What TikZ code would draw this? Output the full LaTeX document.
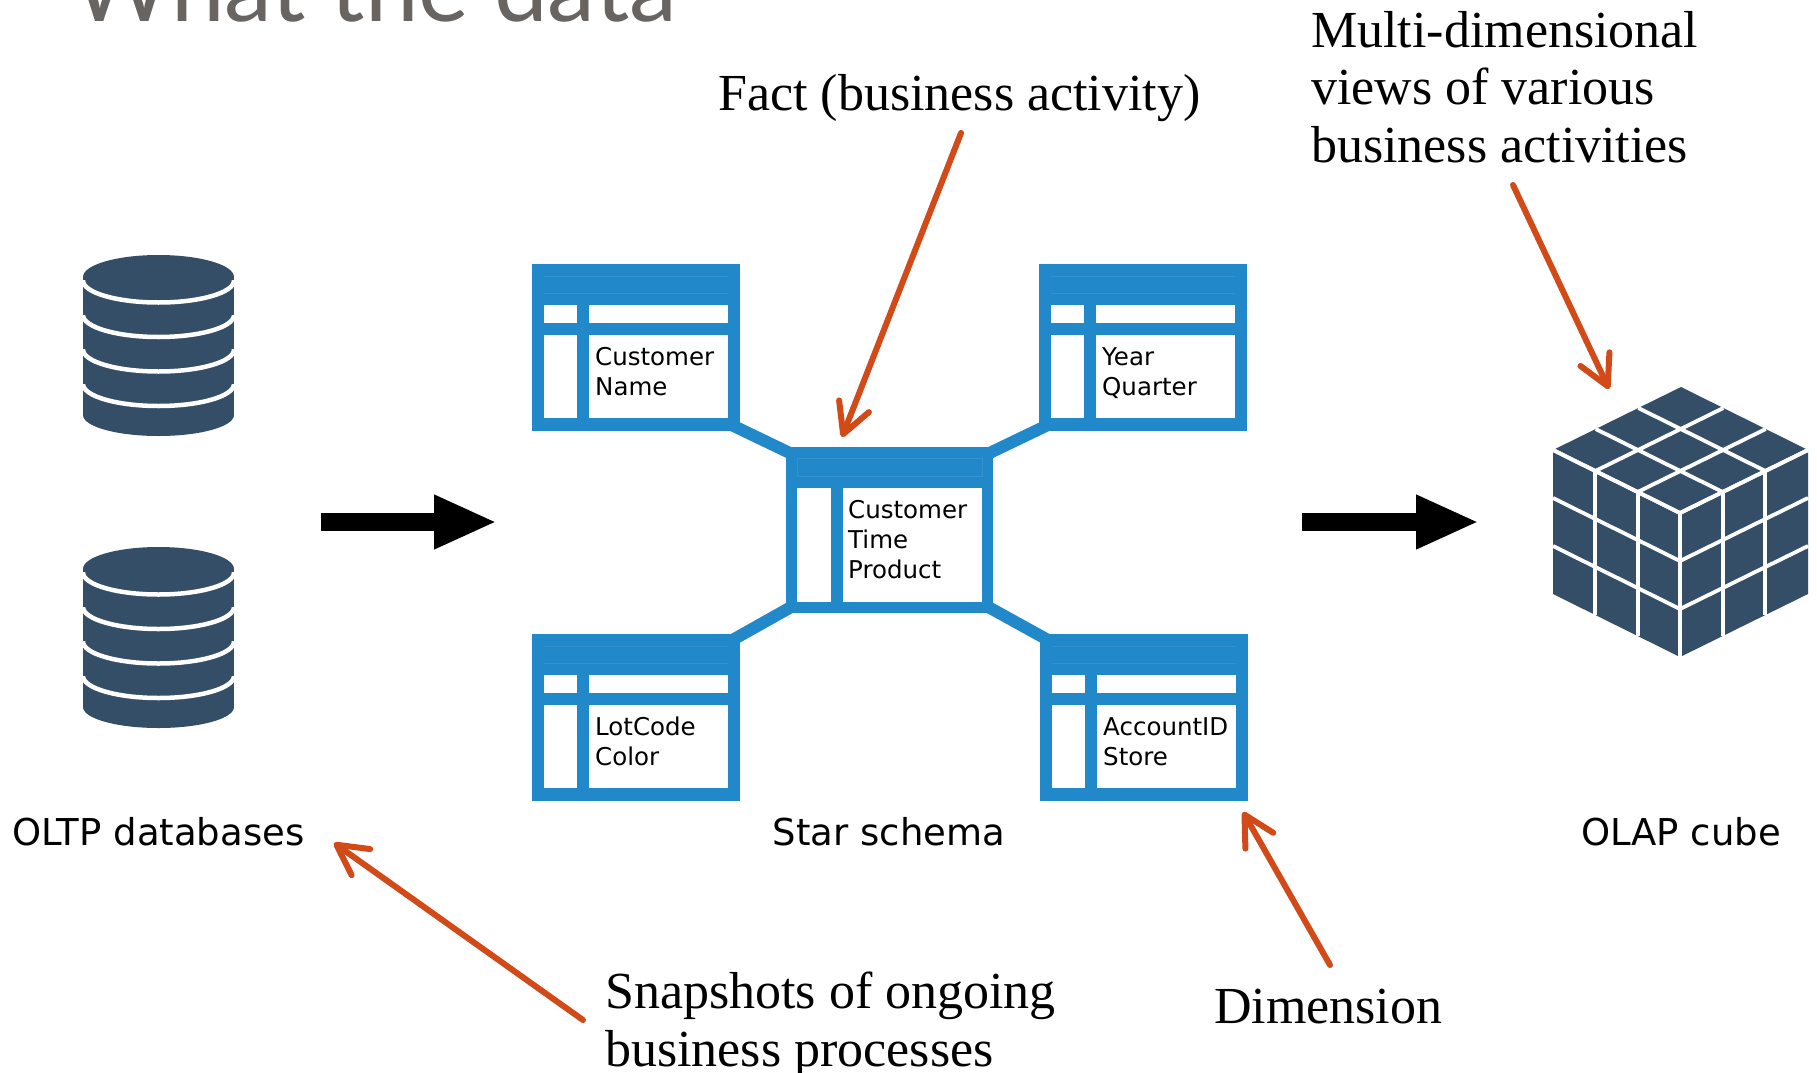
\documentclass[tikz,border=0pt]{standalone}
\usepackage{fontspec}
\usetikzlibrary{calc,arrows.meta}
\newfontfamily\sansf{DejaVu Sans}
\newfontfamily\seriff{Liberation Serif}
\newfontfamily\titlef{Lato}
\definecolor{tblue}{RGB}{33,136,201}
\definecolor{slate}{RGB}{53,78,103}
\definecolor{rust}{RGB}{209,74,24}
\definecolor{titlegray}{RGB}{103,100,98}
\pgfdeclarelayer{bg}
\pgfdeclarelayer{links}
\pgfsetlayers{bg,links,main}

% a dimension table: header band, a key row and a body with two columns
\newcommand\dimtable[4]{%
  \node[tablebox, anchor=north west] (#1) at (#2,#3) {};
  \fill[white] ($(#1.north west)+(12,41)$) rectangle ($(#1.north west)+(45,59)$);
  \fill[white] ($(#1.north west)+(57,41)$) rectangle ($(#1.north west)+(196,59)$);
  \fill[white] ($(#1.north west)+(12,71)$) rectangle ($(#1.north west)+(45,154)$);
  \fill[white] ($(#1.north west)+(57,71)$) rectangle ($(#1.north west)+(196,154)$);
  \draw[headline] ($(#1.north west)+(12,12)$) -- ($(#1.north west)+(196,12)$);
  \draw[headline] ($(#1.north west)+(12,29)$) -- ($(#1.north west)+(196,29)$);
  % base anchor of a two-line node sits on its last line
  \node[celltext] (#1-txt) at ($(#1.north west)+(63,131)$) {#4};
}

% a database cylinder with four white rings
\newcommand\dbstack[1]{%
  \begin{scope}[shift={(0,#1)}]
    \fill[slate] (83,277) rectangle (234,415);
    \fill[slate] (158.5,277) ellipse[x radius=75.5, y radius=22];
    \fill[slate] (158.5,415) ellipse[x radius=75.5, y radius=21];
    \foreach \c in {280.5,315,349.5,384} {
      \begin{scope}
        \clip (78,\c) rectangle (240,\c+30);
        \draw[white, line width=4.5] (158.5,\c) ellipse[x radius=75.5, y radius=22];
      \end{scope}
    }
  \end{scope}
}

\begin{document}
\begin{tikzpicture}[x=1pt, y=-1pt,
  tablebox/.style={rectangle, fill=tblue, draw=none, inner sep=0,
    minimum width=208pt, minimum height=167pt},
  headline/.style={draw=tblue!92!white, line width=0.8pt},
  celltext/.style={anchor=base west, align=left, inner sep=0,
    font=\sansf\fontsize{24.5}{30}\selectfont},
  link/.style={draw=tblue, line width=12pt},
  bigarrow/.style={line width=18pt, -{Triangle[length=63pt, width=50pt]}},
  lab/.style={inner sep=0, font=\sansf\fontsize{37}{44}\selectfont},
  note/.style={inner sep=0, align=left, font=\seriff\fontsize{52}{57.5}\selectfont},
  callout/.style={draw=rust, line width=6pt, line cap=round,
    -{Straight Barb[length=30pt, width=32pt, round]}},
  grid/.style={draw=white, line width=3.8pt}]

\begin{pgfonlayer}{bg}
  \fill[white] (0,0) rectangle (1817,1073);
\end{pgfonlayer}
\useasboundingbox (0,0) rectangle (1817,1073);
\clip (0,0) rectangle (1817,1073);

% heading, only its lower part lies on the page
\node[anchor=base west, inner sep=0, text=titlegray,
  font=\titlef\fontsize{96}{100}\selectfont] (title) at (72,22) {What the data};

% OLTP databases
\dbstack{0}
\dbstack{292}

% star schema: four dimension tables around the fact table
\dimtable{dcust}{532}{264}{Customer\\Name}
\dimtable{dtime}{1039}{264}{Year\\Quarter}
\dimtable{dprod}{532}{634}{LotCode\\Color}
\dimtable{dstore}{1040}{634}{AccountID\\Store}

\node[tablebox, anchor=north west, minimum width=207pt, minimum height=166pt] (fact) at (786,447) {};
\draw[headline] ($(fact.north west)+(11,11)$) rectangle ($(fact.north west)+(196,29)$);
\fill[white] ($(fact.north west)+(11,41)$) rectangle ($(fact.north west)+(45,155)$);
\fill[white] ($(fact.north west)+(57,41)$) rectangle ($(fact.north west)+(196,155)$);
\node[celltext] (fact-txt) at ($(fact.north west)+(62,131)$) {Customer\\Time\\Product};

\begin{pgfonlayer}{links}
  \draw[link] ($(dcust.south east)+(-8,-6)$) -- ($(fact.north west)+(8,8)$);
  \draw[link] ($(dtime.south west)+(8,-6)$) -- ($(fact.north east)+(-8,8)$);
  \draw[link] ($(dprod.north east)+(-8,6)$) -- ($(fact.south west)+(8,-8)$);
  \draw[link] ($(dstore.north west)+(8,6)$) -- ($(fact.south east)+(-8,-8)$);
\end{pgfonlayer}

% OLAP cube
\coordinate (cc) at (1680,513);
\coordinate (cl) at (-127,-63);
\coordinate (cr) at (128,-63);
\coordinate (cd) at (0,144);
\fill[slate] ($(cc)+(cl)$) -- ($(cc)+(cl)+(cr)$) -- ($(cc)+(cr)$) -- ($(cc)+(cr)+(cd)$)
  -- ($(cc)+(cd)$) -- ($(cc)+(cl)+(cd)$) -- cycle;
\foreach \a in {0,0.3333,0.6667} {
  \draw[grid] ($(cc)+\a*(cl)$) -- ($(cc)+\a*(cl)+(cr)$);
  \draw[grid] ($(cc)+\a*(cr)$) -- ($(cc)+\a*(cr)+(cl)$);
  \draw[grid] ($(cc)+\a*(cl)$) -- ($(cc)+\a*(cl)+(cd)$);
  \draw[grid] ($(cc)+\a*(cr)$) -- ($(cc)+\a*(cr)+(cd)$);
  \draw[grid] ($(cc)+\a*(cd)$) -- ($(cc)+\a*(cd)+(cl)$);
  \draw[grid] ($(cc)+\a*(cd)$) -- ($(cc)+\a*(cd)+(cr)$);
}

% flow arrows
\coordinate (a1s) at (321,522);
\coordinate (a1e) at (497,522);
\coordinate (a2s) at (1302,522);
\coordinate (a2e) at (1479,522);
\draw[bigarrow] (a1s) -- (a1e);
\draw[bigarrow] (a2s) -- (a2e);

% captions
\node[lab, anchor=base west] (oltp) at (12,845) {OLTP databases};
\node[lab, anchor=base] (star) at (889,845) {Star schema};
\node[lab, anchor=base] (olap) at (1681,845) {OLAP cube};

% annotations (base anchor of a multi-line node is its last line)
\node[note, anchor=base west] (factlbl) at (718,110) {Fact (business activity)};
\node[note, anchor=base west] (multilbl) at (1311,162) {Multi-dimensional\\views of various\\business activities};
\node[note, anchor=base west] (snaplbl) at (605,1066) {Snapshots of ongoing\\business processes};
\node[note, anchor=base west] (dimlbl) at (1214,1023) {Dimension};

\coordinate (p1s) at (961,133);
\coordinate (p1e) at (842,437);
\coordinate (p2s) at (1513,185);
\coordinate (p2e) at (1609,389);
\coordinate (p3s) at (583,1020);
\coordinate (p3e) at (334,843);
\coordinate (p4s) at (1330,965);
\coordinate (p4e) at (1243,812);
\draw[callout] (p1s) -- (p1e);
\draw[callout] (p2s) -- (p2e);
\draw[callout] (p3s) -- (p3e);
\draw[callout] (p4s) -- (p4e);

\end{tikzpicture}
\end{document}
